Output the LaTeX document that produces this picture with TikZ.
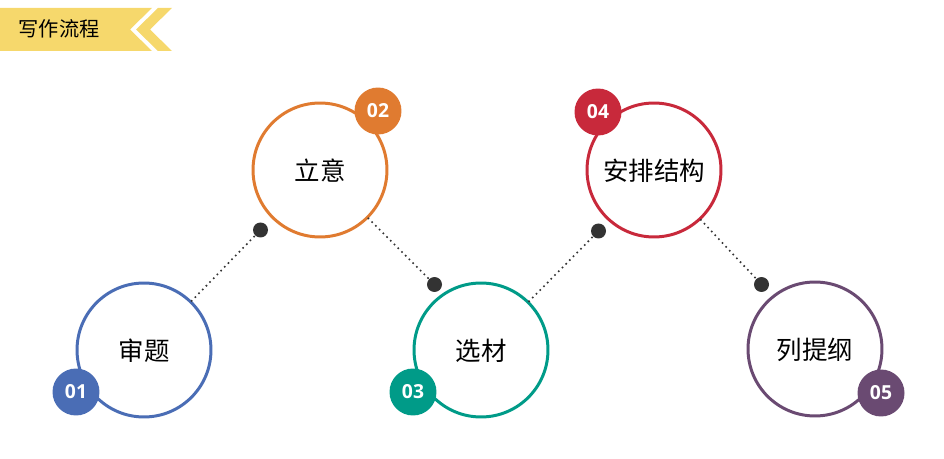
\documentclass[tikz,border=0pt]{standalone}
\usepackage{fontspec}
\setmainfont{Open Sans}
\newfontfamily\cjk{Noto Sans CJK SC}
\definecolor{banner}{HTML}{F6D86C}
\definecolor{cblue}{HTML}{4A6DB5}
\definecolor{corange}{HTML}{E07B30}
\definecolor{cteal}{HTML}{009B88}
\definecolor{cred}{HTML}{C8293B}
\definecolor{cpurple}{HTML}{6A4A72}
\definecolor{pingray}{HTML}{333333}
\begin{document}
\begin{tikzpicture}[x=0.02cm,y=-0.02cm,
  ring/.style={circle, draw=#1, line width=1.7pt, fill=white, minimum size=2.68cm, inner sep=0pt, text depth=-1.5pt, font=\cjk\fontsize{14.5}{16}\selectfont},
  badge/.style={circle, fill=#1, minimum size=0.94cm, inner sep=0pt, text=white, font=\bfseries\fontsize{11}{12}\selectfont},
  pin/.style={circle, fill=pingray, minimum size=0.3cm, inner sep=0pt},
  link/.style={draw=pingray, line width=1.3pt, dash pattern=on 0pt off 3pt, line cap=round}]
\useasboundingbox (0,0) rectangle (944,459);

% Banner
\fill[banner] (0,8) -- (152,8) -- (130,29.5) -- (152,51) -- (0,51) -- cycle;
\fill[banner] (158,8) -- (172,8) -- (150,29.5) -- (172,51) -- (158,51) -- (136,29.5) -- cycle;
\node[font=\cjk\fontsize{11.5}{13}\selectfont] (title) at (59,29) {写作流程};

% Circulos
\node[ring=cblue] (c1) at (144,350) {审题};
\node[ring=corange] (c2) at (320,170) {立意};
\node[ring=cteal] (c3) at (481,350) {选材};
\node[ring=cred] (c4) at (654,170) {安排结构};
\node[ring=cpurple] (c5) at (815,349) {列提纲};

% Puntos
\node[pin] (d1) at (260.5,230) {};
\node[pin] (d2) at (434.5,284.5) {};
\node[pin] (d3) at (598.5,231) {};
\node[pin] (d4) at (761.5,284.5) {};

% Lineas punteadas
\draw[link] (c1) -- (d1);
\draw[link] (c2) -- (d2);
\draw[link] (c3) -- (d3);
\draw[link] (c4) -- (d4);

% Numeros
\node[badge=cblue] (b1) at (76,392) {01};
\node[badge=corange] (b2) at (378,111) {02};
\node[badge=cteal] (b3) at (413,392) {03};
\node[badge=cred] (b4) at (598,112) {04};
\node[badge=cpurple] (b5) at (881,393) {05};
\end{tikzpicture}
\end{document}
